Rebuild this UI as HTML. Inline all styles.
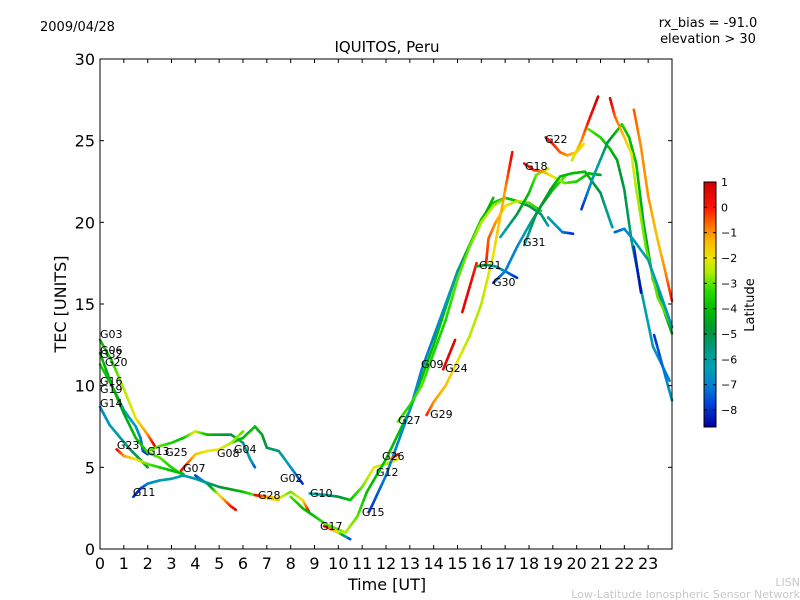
<!DOCTYPE html>
<html><head><meta charset="utf-8"><style>
body{margin:0;background:#fff;}
svg{display:block;font-family:"DejaVu Sans","Liberation Sans",sans-serif;}
</style></head><body>
<svg id="chart" width="800" height="600">
<rect x="0" y="0" width="800" height="600" fill="#fff"/>
<text x="40" y="31" font-size="13">2009/04/28</text>
<text x="387" y="52" font-size="15" text-anchor="middle">IQUITOS, Peru</text>
<text x="708" y="27" font-size="13" text-anchor="middle">rx_bias = -91.0</text>
<text x="708" y="43" font-size="13" text-anchor="middle">elevation &gt; 30</text>
<text x="66" y="304" font-size="16" text-anchor="middle" transform="rotate(-90 66 304)">TEC [UNITS]</text>
<text x="387" y="590" font-size="16" text-anchor="middle">Time [UT]</text>
<text x="754" y="305" font-size="13" text-anchor="middle" transform="rotate(-90 754 305)">Latitude</text>
<text x="800" y="586" font-size="11" fill="#c8c8c8" text-anchor="end">LISN</text>
<text x="800" y="598" font-size="11" fill="#c8c8c8" text-anchor="end">Low-Latitude Ionospheric Sensor Network</text>
<g id="plot"></g>
<g id="axes"></g>
<g id="cbar"></g>
</svg>
<script>
const xTicks = [0,1,2,3,4,5,6,7,8,9,10,11,12,13,14,15,16,17,18,19,20,21,22,23];
const yTicks = [0,5,10,15,20,25,30];
const cbTicks = [1,0,-1,-2,-3,-4,-5,-6,-7,-8];
const latMin = -8.67, latMax = 1;
const trackTimes = [
 [0,0.5,1,1.5,2,2.3],
 [0,0.5,1,1.5,1.7,1.8,2],
 [0,0.5,1,1.5,2,2.5,3,3.5],
 [0,0.4,0.8,1.2,1.6,2],
 [0.7,1,1.5,2,3,3.5],
 [2,2.5,3,3.5,4,4.5,5,5.5,6,6.3,6.5],
 [5.5,6,6.5,6.8,7,7.5,8,8.5],
 [3.4,4,4.5,5,5.5,6],
 [1.4,1.7,2,2.5,3,3.5,4,5,6,7,7.5],
 [4,4.5,5,5.5,5.7],
 [6.5,7,7.5,8,8.5,8.8],
 [8.8,9.5,10,10.5,11,11.5,12,12.5],
 [9.4,10,10.5],
 [8,8.5,9,9.5,10,10.3,10.8,11.2,12,13,14,15,16,16.5,17,17.5,18,18.5,18.8],
 [11.3,12,12.5,13,13.5,14,14.5,15,15.5,16,16.5],
 [12.5,13,13.5,14,14.5,15,15.5,16,16.5,17],
 [14.4,14.9],
 [15.2,15.5,15.8],
 [16.2,16.3,16.6,17,17.5,18,18.5],
 [13.7,14,14.5,15,15.5,16,16.5,17,17.3],
 [12.2,12.5],
 [15.8,16.2,16.6,17,17.5],
 [16.5,17,17.5,18,18.5,19,19.5],
 [16.8,17.5,18,18.3,18.8],
 [17.8,18.2,18.6,19,19.5,20,20.5,21],
 [17.8,18.3,18.9,19.3,19.8,20.35,21,21.4,21.5],
 [18.8,19.4,19.85],
 [18.7,19,19.3,19.6,20,20.3],
 [19.8,20.2,20.5,20.9],
 [20.5,21,21.4,21.7,22,22.3,22.7,23.2,23.9],
 [20.2,20.7,21.3,21.9,22.2,22.5,22.8,23.2,24],
 [21.4,21.6,22,22.3,22.5,22.9,23.4,24],
 [22.4,22.7,23,23.4,23.7,24],
 [21.6,22,22.4,23,23.5,24],
 [22.4,22.7],
 [23.25,24]
];
const trackTec = [
 [12.8,11.5,9.8,8,7,6.3],
 [12,10,8.5,7.5,6.8,6,5.8],
 [11.3,10,8.3,6.8,5.9,5.6,5,4.5],
 [8.7,7.6,6.9,6.2,5.6,5],
 [6.1,5.7,5.5,5.2,4.8,4.6],
 [6,6.3,6.5,6.8,7.2,7,7,7,6.5,5.5,5],
 [6.5,6.8,7.5,7,6.2,6,5,4],
 [4.8,5.8,6,6.1,6.5,7.2],
 [3.2,3.7,4,4.2,4.3,4.5,4.3,3.8,3.5,3.1,3],
 [4.5,4,3.3,2.6,2.4],
 [3.3,3.2,3.1,3.5,3,2.2],
 [3.4,3.3,3.2,3,3.8,5,5.2,5.5],
 [1.4,1,0.6],
 [3.2,2.5,2,1.5,1.2,1,2,3.5,5.5,8.5,12.5,17,20.2,21.2,21.5,21.3,21,20.5,19.8],
 [2.3,4.5,6.5,8.5,11,13,15,17,18.5,20,21.5],
 [7.8,8.8,10,12,14,16.5,18.5,20,21,21.5],
 [11,12.8],
 [14.5,16,17.5],
 [17.5,19,20,21,21.3,21.2,20.7],
 [8.2,9,10,11.5,13,15,18,22,24.3],
 [5.5,5.8],
 [17.3,17.4,17.3,17,16.6],
 [16.3,17,18.5,19.8,21,22,22.8],
 [19.1,20.5,21.8,22.9,23.3],
 [23.6,23.2,23.1,22.8,22.4,22.5,23,22.9],
 [18.6,20.5,22,22.8,23,23.1,21.8,20.1,19.7],
 [20.3,19.4,19.3],
 [25.2,24.8,24.3,24.1,24.3,24.8],
 [23.8,25,26.2,27.7],
 [25.7,25.2,24.5,23.8,22,18.9,15.9,12.4,10.3],
 [20.8,22.8,24.9,26,25.2,23.6,20,16.5,13.2],
 [27.6,26.5,25.2,24.2,22,18.5,15.4,13.6],
 [26.9,24.6,21.6,18.9,17.1,15.2],
 [19.4,19.6,18.9,17.7,15.7,13.6],
 [18.5,15.7],
 [13.1,9.1]
];
const trackLat = [
 [-4,-3.5,-2.5,-2,-1,0.5],
 [-4,-4.5,-6,-6.5,-7,-7.5,-8],
 [-3.5,-4,-4.5,-4,-3.5,-3,-3.5,-3.5],
 [-7,-6.5,-6,-5.5,-5,-4.5],
 [0.5,-1,-2,-3,-4,-4],
 [-3,-3,-3.5,-4,-2,-4,-4.5,-5,-5.5,-6,-7.5],
 [-4,-4,-4,-4.5,-5,-5.5,-6.5,-8],
 [0.5,-1.5,-2,-2,-2.5,-3],
 [-8,-8,-7,-6.5,-6,-6.5,-6,-5,-4,-2,-1.5],
 [-8,-6,-2,0,0.5],
 [0.5,-1,-2,-3,-2,0.5],
 [-6,-6,-5,-4,-3,-2,-2.5,-2],
 [0.5,-2,-8],
 [-3,-4,-4,-3,-3,-2.5,-3,-4,-4,-4,-4,-4,-3.5,-3.5,-4,-4,-5,-5.5,-6],
 [-8,-7,-7,-6.5,-7,-7,-6.5,-6,-5,-4.5,-4],
 [-3,-3.5,-3,-3.5,-3.5,-3,-3,-2.5,-2.5,-3],
 [0.5,0.7],
 [0.5,0.5,0],
 [0,-0.5,-1,-2,-2.5,-3,-3.5],
 [0,-1,-1.5,-2,-2.5,-2.5,-2,-1,0.5],
 [-1,0.5],
 [-4,-5,-6,-7,-8],
 [-8,-7,-7,-6,-5,-4,-3],
 [-6.5,-5,-4,-3,-2.5],
 [0.5,0,-1,-2,-3,-3.5,-4,-4.5],
 [-6,-5,-4.5,-4,-4,-4,-5,-6,-6.5],
 [-6,-7,-8],
 [0.5,0,-0.5,-1,-1.5,-2],
 [-2.5,-1,0,1],
 [-3,-3.5,-4,-4.5,-5,-5.5,-6,-6.5,-7],
 [-8,-6.5,-5,-3.5,-4,-4,-4.5,-4.5,-4.5],
 [0.8,-0.5,-1.5,-2,-2.5,-3,-3,-3],
 [-0.5,-1,-1,-1.5,-1,0],
 [-7.5,-7,-6.5,-6,-6.5,-6.5],
 [-8,-8.5],
 [-8,-6.5]
];
const labelNames = ["G03","G06","G32","G20","G16","G19","G14","G23","G13","G25","G07","G08","G04","G11","G28","G02","G10","G17","G15","G12","G26","G27","G29","G09","G24","G21","G30","G31","G18","G22"];
const labelT = [0,0,0,0.21,0,0,0,0.71,1.97,2.73,3.48,4.91,5.62,1.38,6.63,7.55,8.81,9.23,10.99,11.58,11.83,12.51,13.85,13.47,14.48,15.9,16.49,17.75,17.83,18.67];
const labelTec = [13.17,12.19,11.94,11.45,10.29,9.8,8.94,6.37,6.0,5.94,4.96,5.88,6.12,3.49,3.31,4.35,3.43,1.41,2.27,4.72,5.7,7.9,8.27,11.33,11.09,17.39,16.35,18.8,23.44,25.1];

const X0=100,X1=672,Y0=549,Y1=59;
const xs = t => X0 + (X1-X0)*t/24;
const ys = v => Y0 - (Y0-Y1)*v/30;
const CB_TOP=182, CB_BOT=427, CB_X=704, CB_W=12;
const cbY = l => CB_BOT - (CB_BOT-CB_TOP)*(l-latMin)/(latMax-latMin);
const cmStops=[[1,[204,0,0]],[0,[255,20,0]],[-0.7,[255,110,0]],[-1.3,[255,180,0]],[-2,[235,230,0]],[-2.6,[170,235,0]],[-3.3,[40,220,0]],[-4,[0,190,0]],[-4.8,[0,150,50]],[-5.6,[0,155,130]],[-6.3,[0,160,180]],[-7,[0,130,210]],[-7.7,[0,70,220]],[-8.67,[0,0,160]]];
function jet(lat){
  lat=Math.max(latMin,Math.min(latMax,lat));
  for(let i=0;i<cmStops.length-1;i++){
    const [a,ca]=cmStops[i],[b,cb]=cmStops[i+1];
    if(lat<=a&&lat>=b){const f=(a-lat)/(a-b);
      return `rgb(${ca.map((c,k)=>Math.round(c+(cb[k]-c)*f)).join(',')})`;}
  }
  return 'rgb(0,0,160)';
}
const NS="http://www.w3.org/2000/svg";
function mk(tag,attrs,parent){const e=document.createElementNS(NS,tag);for(const k in attrs)e.setAttribute(k,attrs[k]);parent.appendChild(e);return e;}
const plot=document.getElementById('plot');
const axes=document.getElementById('axes');
const cbar=document.getElementById('cbar');

trackTimes.forEach((ts,i)=>{
  const g=mk('g',{},plot);
  
  
  for(let j=0;j<ts.length-1;j++){
    const n=6;
    for(let k=0;k<n;k++){
      const a=k/n,b=(k+1)/n;
      const t1=ts[j]+(ts[j+1]-ts[j])*a, t2=ts[j]+(ts[j+1]-ts[j])*b;
      const v1=trackTec[i][j]+(trackTec[i][j+1]-trackTec[i][j])*a, v2=trackTec[i][j]+(trackTec[i][j+1]-trackTec[i][j])*b;
      const l=trackLat[i][j]+(trackLat[i][j+1]-trackLat[i][j])*(a+b)/2;
      const s=mk('line',{x1:xs(t1),y1:ys(v1),x2:xs(t2),y2:ys(v2),stroke:jet(l),'stroke-width':2.6,'stroke-linecap':'round'},g);
      
      
    }
  }
});
labelNames.forEach((n,i)=>{
  const t=mk('text',{x:xs(labelT[i]),y:ys(labelTec[i])+4,'font-size':11,fill:'#000'},plot);
  t.textContent=n;
  
  
});
const fr=mk('rect',{x:X0,y:Y1,width:X1-X0,height:Y0-Y1,fill:'none',stroke:'#000','stroke-width':1},axes);


xTicks.forEach(t=>{
  const x=xs(t);
  mk('line',{x1:x,y1:Y0,x2:x,y2:Y0-4,stroke:'#000'},axes);
  mk('line',{x1:x,y1:Y1,x2:x,y2:Y1+4,stroke:'#000'},axes);
  const tx=mk('text',{x:x,y:Y0+20,'font-size':16,'text-anchor':'middle'},axes);
  tx.textContent=t;
  
  
});
yTicks.forEach(v=>{
  const y=ys(v);
  mk('line',{x1:X0,y1:y,x2:X0+4,y2:y,stroke:'#000'},axes);
  mk('line',{x1:X1,y1:y,x2:X1-4,y2:y,stroke:'#000'},axes);
  const tx=mk('text',{x:X0-5,y:y+6,'font-size':16,'text-anchor':'end'},axes);
  tx.textContent=v;
  
  
});
for(let y=CB_TOP;y<CB_BOT;y++){
  const l=latMin+(latMax-latMin)*(CB_BOT-y-0.5)/(CB_BOT-CB_TOP);
  mk('rect',{x:CB_X,y:y,width:CB_W,height:1.2,fill:jet(l)},cbar);
}
const cbf=mk('rect',{x:CB_X,y:CB_TOP,width:CB_W,height:CB_BOT-CB_TOP,fill:'none',stroke:'#000'},cbar);


cbTicks.forEach(l=>{
  const y=cbY(l);
  mk('line',{x1:CB_X,y1:y,x2:CB_X+3,y2:y,stroke:'#000'},cbar);
  mk('line',{x1:CB_X+CB_W,y1:y,x2:CB_X+CB_W-3,y2:y,stroke:'#000'},cbar);
  const tx=mk('text',{x:CB_X+CB_W+5,y:y+4,'font-size':11},cbar);
  tx.textContent=l<0?'\u2212'+(-l):l;
  
  
});
</script>
</body></html>
